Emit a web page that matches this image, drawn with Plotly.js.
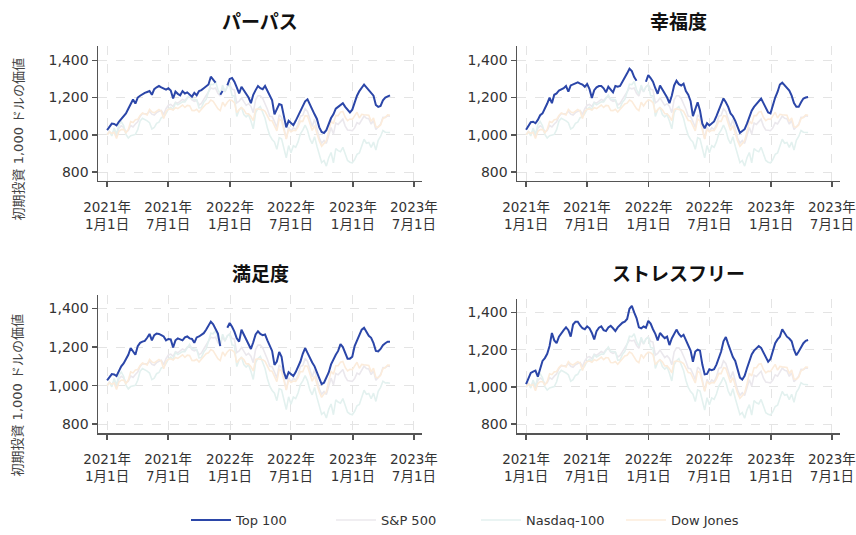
<!DOCTYPE html>
<html>
<head>
<meta charset="utf-8">
<script src="https://cdn.plot.ly/plotly-3.0.1.min.js"></script>
<style>
  html, body { margin: 0; padding: 0; background: #ffffff; }
  #chart { width: 856px; height: 535px; }
</style>
</head>
<body>
<div id="chart"></div>
<script>
// Weekly closes (Fridays), value of a 1,000 USD investment made on 2021-01-01
const firstWeek = '2021-01-01';
const weekCount = 121;

const tickDates = ['2021-01-01', '2021-07-01', '2022-01-01', '2022-07-01', '2023-01-01', '2023-07-01'];
const tickLabels = ['2021年<br>1月1日', '2021年<br>7月1日', '2022年<br>1月1日', '2022年<br>7月1日', '2023年<br>1月1日', '2023年<br>7月1日'];
const valueTicks = [800, 1000, 1200, 1400];

const panelTitles = ['パーパス', '幸福度', '満足度', 'ストレスフリー'];
const seriesNames = ['Top 100', 'S&P 500', 'Nasdaq-100', 'Dow Jones'];
const yTitle = '初期投資 1,000 ドルの価値';

const sp500 = [1000,
  1018,1003,1023,989, 1035,1048,1040,1015, 1023,1050,1042,1058, 1070,1099,1114,1113,1113,
  1127,1111,1106,1119, 1126,1131,1109,1140, 1159,1163,1152,1175,1170, 1181,1190,1183,1200,
  1207,1187,1180,1186, 1160,1169,1190,1210,1226, 1251,1247,1251,1223, 1208,1254,1230,1258,1269,
  1245,1241,1171,1180, 1198,1177,1158,1167, 1153,1119,1188,1210, 1210,1195,1170,1137,1100,
  1098,1071,1039,1107, 1094,1039,978,1041, 1018,1038,1028,1055,1100, 1104,1140,1126,1080,
  1045,1083,1031,983,955, 969,954,999,1039, 1004,1063,1056,1072, 1084,1047,1026,1024,1022,
  1037,1065,1058,1084, 1101,1089,1086,1057, 1077,1028,1043,1057,1094, 1093,1102,1100];

const nasdaq100 = [1000,
  1017,994,1037,1003, 1054,1071,1049,1002, 983,995,998,1002, 1028,1074,1089,1084,1075,
  1065,1031,1039,1062, 1068,1092,1097,1114, 1138,1148,1136,1172,1161, 1169,1177,1176,1193,
  1214,1192,1190,1188, 1144,1145,1175,1190,1230, 1272,1269,1286,1243, 1219,1267,1233,1258,1266,
  1211,1209,1099,1133, 1148,1109,1096,1108, 1074,1032,1119,1141, 1152,1122,1089,1036,997,
  975,961,922,984, 978,918,876,942, 904,941,933,962,1005, 1025,1052,1025,978,
  952,990,939,894,851, 862,832,877,905, 849,926,915,909, 933,897,862,853,849,
  867,895,902,944, 976,955,959,932, 961,918,971,991,1023, 1014,1015,1012];

const dowJones = [1000,
  1016,1007,1013,980, 1018,1028,1029,1011, 1029,1071,1066,1081, 1083,1104,1117,1112,1107,
  1136,1123,1118,1128, 1136,1127,1088,1125, 1137,1139,1133,1146,1141, 1150,1160,1147,1158,
  1156,1131,1130,1137, 1122,1135,1153,1166,1170, 1187,1180,1163,1140, 1130,1175,1155,1175,1187,
  1184,1173,1120,1135, 1146,1135,1113,1113, 1098,1076,1136,1139, 1138,1134,1126,1105,1077,
  1075,1052,1021,1085, 1075,1026,977,1029, 1016,1024,1022,1042,1073, 1072,1103,1101,1055,
  1023,1050,1007,967,939, 957,968,1016,1074, 1059,1103,1103,1122, 1125,1094,1076,1085,1083,
  1099,1121,1090,1110, 1108,1107,1105,1072, 1091,1043,1041,1053,1087, 1094,1107,1105];

const top100Purpose = [
  1025,1045,1060,1058,1050,1070,1085,1100,1115,1140,
  1165,1190,1168,1200,1210,1220,1225,1230,1235,1215,
  1245,1255,1262,1255,1250,1243,1250,1238,1195,1232,
  1220,1212,1235,1222,1228,1215,1205,1225,1212,1235,
  1240,1250,1262,1270,1312,1295,1280,null,1215,1235,
  null,1265,1300,1305,1285,1255,1222,1258,1240,1225,
  1200,1170,1215,1240,1262,1250,1245,1262,1235,1215,
  1185,1110,1140,1165,1160,1100,1040,1075,1065,1052,
  1075,1100,1130,1155,1180,1190,1160,1140,1110,1085,
  1040,1015,1010,1025,1060,1090,1110,1140,1150,1160,
  1170,1150,1135,1120,1135,1175,1210,1235,1255,1270,
  1255,1240,1220,1210,1160,1150,1155,1185,1200,1205,1212];

const top100Happiness = [
  1027,1050,1068,1070,1062,1080,1105,1115,1140,1168,
  1200,1170,1215,1222,1238,1245,1250,1262,1232,1265,
  1272,1276,1282,1275,1270,1258,1272,1245,1198,1240,
  1255,1262,1262,1250,1228,1258,1245,1228,1262,1258,
  1262,1285,1300,1330,1355,1342,1310,1290,null,null,
  null,1285,1320,1305,1285,1250,1220,1265,1245,1225,
  1200,1170,1210,1265,1290,1272,1265,1275,1235,1215,
  1180,1100,1140,1175,1130,1060,1035,1062,1050,1060,
  1072,1100,1130,1155,1195,1175,1150,1115,1100,1075,
  1040,1010,1020,1030,1060,1100,1130,1150,1165,1185,
  1195,1170,1140,1120,1115,1160,1200,1230,1270,1280,
  1265,1248,1238,1210,1170,1150,1150,1175,1195,1200,1203];

const top100Satisfaction = [
  1027,1045,1060,1058,1050,1075,1100,1115,1135,1160,
  1195,1180,1160,1205,1222,1228,1232,1248,1268,1235,
  1262,1270,1268,1262,1255,1235,1242,1240,1198,1235,
  1245,1240,1235,1250,1255,1245,1242,1222,1250,1255,
  1262,1272,1290,1310,1332,1318,1295,1270,1205,null,
  null,1300,1325,1305,1280,1245,1228,1290,1265,1245,
  1222,1190,1225,1265,1282,1268,1262,1265,1235,1210,
  1180,1108,1125,1175,1150,1070,1035,1070,1058,1050,
  1070,1095,1125,1165,1195,1170,1140,1120,1100,1070,
  1035,1008,1015,1040,1068,1110,1140,1160,1180,1215,
  1200,1165,1140,1140,1150,1205,1235,1265,1290,1300,
  1282,1258,1248,1220,1180,1178,1190,1210,1220,1228,1227];

const top100StressFree = [
  1015,1050,1075,1082,1088,1055,1100,1140,1155,1178,
  1220,1290,1250,1235,1270,1290,1305,1320,1305,1270,
  1335,1350,1350,1330,1315,1310,1325,1315,1290,1255,
  1300,1318,1325,1305,1300,1320,1328,1315,1300,1320,
  1335,1345,1350,1365,1420,1435,1400,1370,1320,1315,
  1325,1318,1355,1340,1310,1285,1250,1290,1275,1262,
  1270,1225,1260,1285,1308,1285,1270,1280,1250,1220,
  1195,1135,1190,1200,1195,1120,1068,1070,1095,1090,
  1095,1120,1160,1190,1245,1268,1230,1195,1160,1140,
  1100,1050,1040,1060,1100,1140,1175,1195,1205,1220,
  1210,1185,1160,1135,1150,1195,1235,1255,1270,1310,
  1290,1270,1260,1245,1200,1170,1190,1215,1235,1248,1252];

const top100Panels = [top100Purpose, top100Happiness, top100Satisfaction, top100StressFree];

// Friday-by-Friday date strings for the weekly series
function weeklyDates(start, n) {
  const t0 = Date.parse(start + 'T00:00:00Z');
  const out = [];
  for (let i = 0; i < n; i++) {
    out.push(new Date(t0 + i * 7 * 86400000).toISOString().slice(0, 10));
  }
  return out;
}
const dates = weeklyDates(firstWeek, weekCount);

const colors = {
  top: '#2b46a8',
  sp: '#ebe8ed',
  ndx: '#e3f1ef',
  dow: '#fcecdb'
};

const latinFont = 'DejaVu Sans, Noto Sans CJK JP, sans-serif';
const cjkBold = 'Noto Sans CJK JP, sans-serif';

// Plot-area placement of the four panels, in page pixels
const W = 856, H = 535;
const panels = [
  { x: [98, 422], y: [47, 183] },
  { x: [517, 840], y: [47, 183] },
  { x: [98, 422], y: [298, 438] },
  { x: [517, 840], y: [302, 438] }
];

const traces = [];
const layout = {
  width: W, height: H,
  margin: { l: 0, r: 0, t: 0, b: 0 },
  paper_bgcolor: '#ffffff',
  plot_bgcolor: '#ffffff',
  showlegend: true,
  legend: {
    orientation: 'h',
    x: 186 / W, xanchor: 'left',
    y: 1 - 526 / H, yanchor: 'middle',
    itemwidth: 40,
    entrywidth: 90,
    font: { family: latinFont, size: 13, color: '#333333' },
    traceorder: 'normal'
  },
  annotations: [],
  font: { family: latinFont }
};

panels.forEach((p, i) => {
  const n = i === 0 ? '' : String(i + 1);
  const xa = 'x' + n, ya = 'y' + n;
  const show = i === 0;

  const indexSeries = [
    { name: seriesNames[1], y: sp500, color: colors.sp, rank: 2 },
    { name: seriesNames[2], y: nasdaq100, color: colors.ndx, rank: 3 },
    { name: seriesNames[3], y: dowJones, color: colors.dow, rank: 4 }
  ];
  indexSeries.forEach(s => {
    traces.push({
      type: 'scatter', mode: 'lines', x: dates, y: s.y,
      name: s.name, legendgroup: s.name, showlegend: show, legendrank: s.rank,
      line: { color: s.color, width: 1.6 },
      xaxis: xa, yaxis: ya, hoverinfo: 'skip'
    });
  });
  traces.push({
    type: 'scatter', mode: 'lines', x: dates, y: top100Panels[i],
    name: seriesNames[0], legendgroup: seriesNames[0], showlegend: show, legendrank: 1,
    line: { color: colors.top, width: 2 },
    connectgaps: false,
    xaxis: xa, yaxis: ya, hoverinfo: 'skip'
  });

  const yTop = p.y[0], yBot = p.y[1];
  // value scale: 1400 sits 14px below the frame top, 800 sits 9px above the frame bottom
  const pxPer = (yBot - 9 - (yTop + 14)) / 600;
  const rangeTop = 1400 + 14 / pxPer;
  const rangeBot = 800 - 9 / pxPer;

  layout['xaxis' + n] = {
    type: 'date',
    domain: [p.x[0] / W, p.x[1] / W],
    anchor: ya,
    range: ['2020-12-05', '2023-07-25'],
    tickmode: 'array', tickvals: tickDates, ticktext: tickLabels,
    ticks: 'outside', ticklen: 5, tickwidth: 1.5, tickcolor: '#555555',
    ticklabelstandoff: 8,
    showline: true, linecolor: '#555555', linewidth: 1.5,
    showgrid: true, gridcolor: '#e4e4e4', gridwidth: 1, griddash: 'dash',
    zeroline: false,
    tickfont: { family: latinFont, size: 13.5, color: '#333333' },
    fixedrange: true
  };
  layout['yaxis' + n] = {
    domain: [1 - yBot / H, 1 - yTop / H],
    anchor: xa,
    range: [rangeBot, rangeTop],
    tickmode: 'array', tickvals: valueTicks, tickformat: ',d',
    ticks: 'outside', ticklen: 5, tickwidth: 1.5, tickcolor: '#555555',
    showline: true, linecolor: '#555555', linewidth: 1.5,
    showgrid: true, gridcolor: '#e4e4e4', gridwidth: 1, griddash: 'dash',
    zeroline: false,
    tickfont: { family: latinFont, size: 14, color: '#333333' },
    fixedrange: true
  };

  // panel heading
  const titleY = i < 2 ? 21 : 276;
  layout.annotations.push({
    text: '<b>' + panelTitles[i] + '</b>',
    xref: 'paper', yref: 'paper',
    x: (p.x[0] + p.x[1]) / 2 / W, y: 1 - titleY / H,
    xanchor: 'center', yanchor: 'middle', showarrow: false,
    font: { family: cjkBold, size: 19, color: '#111111' }
  });

  // value-axis caption, left column only
  if (i % 2 === 0) {
    const capY = i === 0 ? 141 : 400;
    layout.annotations.push({
      text: yTitle,
      xref: 'paper', yref: 'paper',
      x: 18 / W, y: 1 - capY / H,
      xanchor: 'center', yanchor: 'middle', showarrow: false,
      textangle: -90,
      font: { family: latinFont, size: 13, color: '#444444' }
    });
  }
});

Plotly.newPlot('chart', traces, layout, { displayModeBar: false, staticPlot: true });
</script>
</body>
</html>
